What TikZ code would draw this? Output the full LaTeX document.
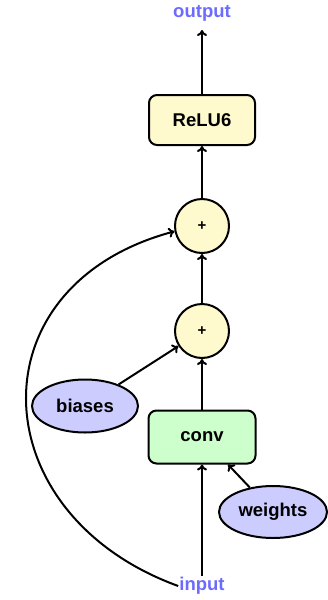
\documentclass[tikz,border=0pt]{standalone}
\usepackage{fontspec}
\setmainfont{Liberation Sans}
\usetikzlibrary{shapes.geometric,arrows.meta}
\definecolor{opyellow}{HTML}{FFFACD}
\definecolor{opgreen}{HTML}{CCFFCC}
\definecolor{parblue}{HTML}{CCCCFF}
\definecolor{iotext}{HTML}{6B6BFF}
\tikzset{
  base/.style={font=\fontsize{18.5}{20}\selectfont\bfseries, line width=2pt, draw=black},
  opbox/.style={base, rectangle, rounded corners=8pt, fill=opyellow, minimum width=106pt, minimum height=50pt},
  convbox/.style={base, rectangle, rounded corners=8pt, fill=opgreen, minimum width=107pt, minimum height=53pt},
  addnode/.style={base, circle, fill=opyellow, minimum size=54pt, inner sep=0pt, font=\fontsize{15}{16}\selectfont\bfseries},
  param/.style={base, ellipse, fill=parblue, minimum width=106pt, minimum height=53pt, inner sep=0pt},
  iolabel/.style={font=\fontsize{18.5}{20}\selectfont\bfseries, text=iotext, inner sep=1pt},
  flow/.style={line width=2pt, -{To[length=6pt,width=10pt]}}
}
\begin{document}
\begin{tikzpicture}[x=1pt,y=-1pt]
\useasboundingbox (0,0) rectangle (328,600);
\node[iolabel] (out) at (202,13) {output};
\node[opbox] (relu) at (202,120) {ReLU6};
\node[addnode] (p1) at (202,226) {+};
\node[addnode] (p2) at (202,331) {+};
\node[param] (bias) at (85,406) {biases};
\node[convbox] (conv) at (202,437) {conv};
\node[param, minimum width=108pt, minimum height=52pt] (w) at (273,512) {weights};
\node[iolabel] (in) at (202,586) {input};

\draw[flow] (relu.north) -- (out.south |- 0,30);
\draw[flow] (p1.north) -- (relu.south);
\draw[flow] (p2.north) -- (p1.south);
\draw[flow] (conv.north) -- (p2.south);
\draw[flow] (in.north) -- (conv.south);
\draw[flow] (w) -- (conv);
\draw[flow] (bias) -- (p2);
\draw[flow] (in.west) .. controls +(200:210) and +(165:210) .. (p1.191);
\end{tikzpicture}
\end{document}
